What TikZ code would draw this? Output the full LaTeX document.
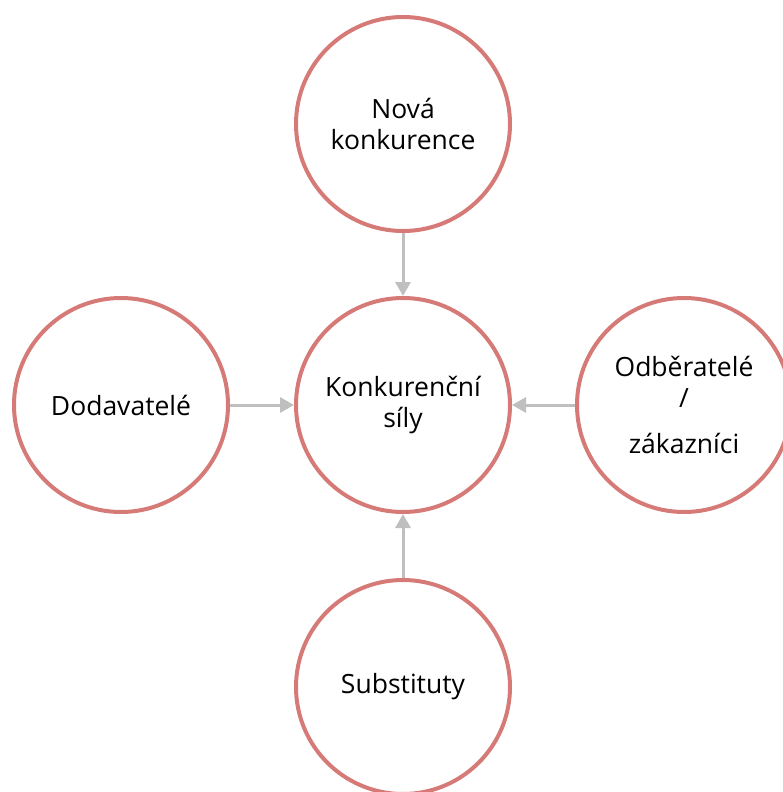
\documentclass[tikz,border=0pt]{standalone}
\usepackage{fontspec}
\setmainfont{Open Sans}
\usetikzlibrary{arrows.meta}
\definecolor{ring}{RGB}{214,122,120}
\definecolor{arr}{RGB}{191,191,191}
\tikzset{
  label font/.style={font=\fontsize{26.5}{31.5}\selectfont, text=black},
  force/.style={circle, draw=ring, line width=4pt, minimum size=214pt, inner sep=0pt,
    align=center, label font},
  link/.style={draw=arr, line width=3pt, -{Triangle[length=14pt,width=15pt]}}
}
\begin{document}
\begin{tikzpicture}[x=1pt,y=-1pt]
\useasboundingbox (0,0) rectangle (783,792);
\clip (0,0) rectangle (783,792);
\node[force] (top) at (403,124) {Nová\\konkurence};
\node[force] (mid) at (403,405) {Konkurenční\\síly};
\node[force] (left) at (121,405) {Dodavatelé};
\node[force] (right) at (684,405) {};
\node[label font] (r1) at (684,366) {Odběratelé};
\node[label font] (r2) at (684,398) {/};
\node[label font] (r3) at (684,443) {zákazníci};
\node[force] (bot) at (403,687) {Substituty};
\draw[link] (top) -- (mid);
\draw[link] (left) -- (mid);
\draw[link] (right) -- (mid);
\draw[link] (bot) -- (mid);
\end{tikzpicture}
\end{document}
